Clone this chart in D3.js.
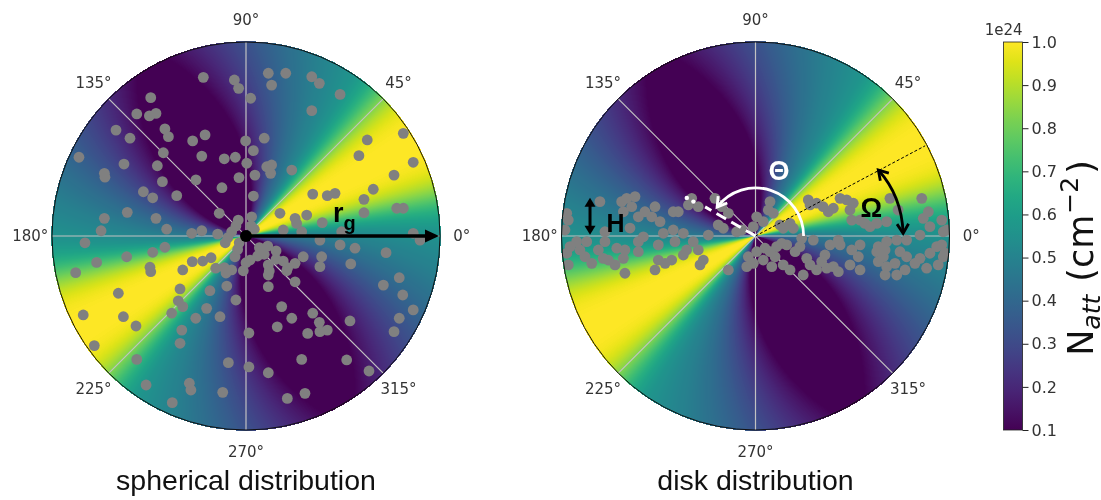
<!DOCTYPE html>
<html>
<head>
<meta charset="utf-8">
<script src="https://cdn.jsdelivr.net/npm/d3@7"></script>
<style>
  body { margin: 0; background: #fff; }
  #chart { position: relative; width: 1101px; height: 500px; }
  #chart canvas, #chart svg { position: absolute; left: 0; top: 0; }
</style>
</head>
<body>
<div id="chart"></div>
<script>
// positions in units of r_g (x, y)
const spherePoints = [
  [-0.220,0.818],[-0.060,0.804],[-0.038,0.761],[-0.491,0.713],[-0.563,0.629],[-0.498,0.619],[-0.464,0.632],
  [-0.418,0.552],[-0.400,0.512],[-0.670,0.546],[-0.598,0.504],[-0.861,0.406],[-0.275,0.490],[-0.211,0.521],
  [-0.002,0.490],[-0.426,0.429],[-0.228,0.412],[-0.112,0.398],[-0.055,0.406],[-0.629,0.371],[-0.457,0.362],
  [-0.730,0.323],[-0.727,0.303],[-0.258,0.289],[-0.431,0.280],[-0.036,0.301],[-0.124,0.249],[-0.529,0.228],
  [-0.481,0.197],[-0.357,0.208],[-0.612,0.122],[-0.730,0.091],[-0.464,0.091],[-0.138,0.117],[-0.747,0.027],
  [-0.409,0.035],[-0.280,0.014],[-0.228,0.027],[-0.146,0.010],[-0.074,0.022],[-0.040,0.082],
  [0.115,0.839],[0.132,0.778],[0.205,0.839],[0.339,0.821],[0.378,0.787],[0.485,0.730],[0.024,0.710],
  [0.339,0.646],[0.094,0.504],[0.038,0.440],[0.004,0.375],[0.107,0.357],[0.132,0.366],[0.127,0.323],
  [0.046,0.314],[0.236,0.340],[0.038,0.206],[0.811,0.529],[0.625,0.495],[0.582,0.414],[0.862,0.380],
  [0.763,0.314],[0.656,0.241],[0.608,0.189],[0.344,0.216],[0.419,0.208],[0.459,0.220],[0.777,0.143],
  [0.811,0.143],[0.175,0.117],[0.253,0.091],[0.313,0.108],[0.261,0.065],[0.393,0.069],[0.608,0.120],
  [0.029,0.099],[0.862,0.014],[0.493,0.022],[0.287,0.022],[0.192,0.031],
  [-0.052,0.052],[0.026,0.052],[0.043,0.035],[-0.094,-0.009],[-0.107,-0.035],[-0.035,-0.035],[-0.043,-0.069],
  [0.112,-0.052],[0.069,-0.060],[0.094,-0.094],[0.060,-0.103],[0.155,-0.077],[0.155,-0.120],[0.192,-0.129],
  [0.215,-0.163],[0.120,-0.180],[0.000,-0.138],[-0.112,-0.163],[-0.180,-0.112],[-0.223,-0.129],
  [-0.830,-0.035],[-0.770,-0.136],[-0.878,-0.189],[-0.615,-0.107],[-0.481,-0.084],[-0.418,-0.058],[-0.495,-0.161],
  [-0.491,-0.184],[-0.326,-0.175],[-0.277,-0.132],[-0.156,-0.166],[-0.103,-0.191],[-0.074,-0.175],[-0.014,-0.179],
  [-0.057,-0.107],[-0.658,-0.295],[-0.340,-0.273],[-0.186,-0.282],[-0.099,-0.258],[-0.052,-0.330],[-0.349,-0.334],
  [-0.326,-0.364],[-0.383,-0.398],[-0.203,-0.373],[-0.259,-0.424],[-0.134,-0.416],[-0.839,-0.407],[-0.632,-0.416],
  [-0.567,-0.464],[-0.331,-0.485],[-0.340,-0.553],[-0.782,-0.565],[-0.563,-0.636],[-0.091,-0.653],[0.015,-0.500],
  [0.015,-0.675],[-0.515,-0.768],[-0.292,-0.759],[-0.284,-0.794],[-0.120,-0.806],[-0.380,-0.859],
  [0.021,-0.124],[0.115,-0.149],[0.115,-0.201],[0.115,-0.261],[0.210,-0.179],[0.253,-0.141],[0.295,-0.107],
  [0.253,-0.236],[0.381,-0.158],[0.390,-0.107],[0.485,-0.046],[0.562,-0.063],[0.540,-0.144],[0.722,-0.086],
  [0.897,-0.021],[0.381,-0.021],[0.708,-0.253],[0.790,-0.215],[0.808,-0.304],[0.862,-0.381],[0.790,-0.424],
  [0.763,-0.493],[0.536,-0.438],[0.184,-0.364],[0.236,-0.424],[0.344,-0.398],[0.378,-0.445],[0.419,-0.485],
  [0.381,-0.493],[0.318,-0.502],[0.161,-0.468],[0.115,-0.705],[0.287,-0.636],[0.519,-0.639],[0.634,-0.696],
  [0.304,-0.811],[0.213,-0.837]
];

const diskPoints = [
  [-0.973,0.117],[-0.965,0.082],[-0.982,0.031],[-0.956,-0.055],[-0.973,-0.089],[-0.965,-0.149],[-0.922,-0.029],
  [-0.905,-0.072],[-0.879,-0.107],[-0.844,-0.141],[-0.810,-0.072],[-0.802,0.177],[-0.870,-0.029],[-0.776,-0.029],
  [-0.785,-0.115],[-0.759,-0.124],[-0.715,-0.063],[-0.673,-0.072],[-0.681,-0.115],[-0.724,-0.149],[-0.673,-0.192],
  [-0.604,-0.081],[-0.690,0.177],[-0.664,0.194],[-0.621,0.203],[-0.638,0.151],[-0.681,0.125],[-0.604,0.099],
  [-0.570,0.125],[-0.535,0.099],[-0.492,0.074],[-0.518,0.151],[-0.424,0.125],[-0.475,0.014],[-0.424,0.031],
  [-0.372,0.014],[-0.329,0.194],[-0.346,0.160],[-0.295,0.151],[-0.398,0.125],[-0.209,0.194],[-0.174,0.151],
  [-0.140,0.117],[-0.192,0.057],[-0.166,0.040],[-0.243,0.005],[-0.321,-0.029],[-0.355,-0.072],[-0.295,-0.072],
  [-0.269,-0.124],[-0.415,-0.029],[-0.501,-0.046],[-0.501,-0.124],[-0.466,-0.141],[-0.518,-0.175],[-0.432,-0.124],
  [-0.372,-0.098],[-0.286,-0.149],[-0.140,-0.175],[-0.097,0.022],[-0.071,0.031],[-0.045,-0.158],[-0.037,-0.107],
  [-0.604,-0.029],[-0.578,-0.004],[-0.776,0.022],[-0.647,0.041],
  [0.075,0.177],[0.066,0.134],[0.092,0.117],[0.006,0.099],[-0.011,0.048],[0.040,0.074],[0.126,0.057],
  [0.143,0.040],[0.178,0.065],[0.195,0.040],[0.272,0.186],[0.281,0.160],[0.315,0.169],[0.349,0.151],
  [0.375,0.125],[0.401,0.143],[0.436,0.194],[0.470,0.186],[0.504,0.169],[0.487,0.134],[0.496,0.082],
  [0.539,0.082],[0.564,0.065],[0.590,0.048],[0.625,0.065],[0.676,0.074],[0.693,0.194],[0.857,0.194],
  [0.891,0.125],[0.865,0.091],[0.899,0.048],[0.960,0.082],[0.968,0.022],[0.848,0.005],[0.779,-0.021],
  [0.728,-0.021],[0.676,-0.029],[0.633,-0.055],[0.668,-0.072],[0.625,-0.081],[0.659,-0.107],[0.633,-0.132],
  [0.676,-0.158],[0.719,-0.141],[0.745,-0.081],[0.779,-0.107],[0.822,-0.141],[0.848,-0.115],[0.899,-0.089],
  [0.934,-0.055],[0.960,-0.046],[0.968,-0.107],[0.942,-0.149],[0.882,-0.166],[0.771,-0.175],[0.728,-0.201],
  [0.668,-0.201],[0.539,-0.175],[0.487,-0.149],[0.530,-0.107],[0.496,-0.072],[0.539,-0.046],[0.436,-0.046],
  [0.427,-0.021],[0.384,-0.046],[0.358,-0.098],[0.341,-0.132],[0.401,-0.158],[0.427,-0.184],[0.281,-0.149],
  [0.264,-0.115],[0.204,-0.081],[0.229,-0.055],[0.161,-0.046],[0.135,-0.038],[0.109,-0.055],[0.075,-0.081],
  [0.101,-0.107],[0.049,-0.063],[0.040,-0.124],[0.006,-0.081],[-0.011,-0.141],[0.143,-0.149],[0.178,-0.175],
  [0.246,-0.201],[0.315,-0.175],[0.367,-0.166],[0.238,-0.012],[0.298,-0.021],[0.084,-0.158],[0.986,0.031],
  [0.735,0.134],[0.977,-0.088]
];

const angleTicks = [0, 45, 90, 135, 180, 225, 270, 315];
const gridAngles = [0, 45, 90, 135];
const colorTicks = [0.1, 0.2, 0.3, 0.4, 0.5, 0.6, 0.7, 0.8, 0.9, 1.0];
const nAttRange = [0.1, 1.0]; // 1e24 cm^-2
const peakAngle = 29; // direction of the densest column, degrees

const WIDTH = 1101;
const HEIGHT = 500;
const R = 194;

const panels = [
  { name: 'sphere', cx: 246, cy: 236, points: spherePoints, title: 'spherical distribution' },
  { name: 'disk', cx: 755.5, cy: 236, points: diskPoints, title: 'disk distribution' },
];
panels.forEach((p) => {
  p.x = d3.scaleLinear().domain([-1, 1]).range([p.cx - R, p.cx + R]);
  p.y = d3.scaleLinear().domain([-1, 1]).range([p.cy + R, p.cy - R]);
  p.pol = (deg, r) => [
    p.x(r * Math.cos((deg * Math.PI) / 180)),
    p.y(r * Math.sin((deg * Math.PI) / 180)),
  ];
});

const color = d3.scaleSequential(d3.interpolateViridis).domain(nAttRange);

// column density seen along direction theta at radius r (units of 1e24)
const nAtt = (thetaDeg, r) => {
  let d = (((thetaDeg - peakAngle) % 180) + 180) % 180;
  if (d > 90) d -= 180;
  d = Math.abs(d);
  const core = Math.exp(-Math.pow(d / 19, 3.5));
  const w = 45 + 40 * r;
  const tail = 0.58 * Math.cos((Math.PI / 2) * Math.min(d / w, 1));
  const t = core + (1 - core) * tail;
  return nAttRange[0] + (nAttRange[1] - nAttRange[0]) * t;
};

const container = document.getElementById('chart');

// colour field on a canvas under the svg
const canvas = document.createElement('canvas');
canvas.width = WIDTH;
canvas.height = HEIGHT;
container.appendChild(canvas);
const ctx = canvas.getContext('2d');

const lutSize = 512;
const lut = d3.range(lutSize).map((i) =>
  d3.rgb(color(nAttRange[0] + ((nAttRange[1] - nAttRange[0]) * i) / (lutSize - 1)))
);
const lookup = (v) => {
  const k = Math.round(((v - nAttRange[0]) / (nAttRange[1] - nAttRange[0])) * (lutSize - 1));
  return lut[Math.max(0, Math.min(lutSize - 1, k))];
};

panels.forEach((p) => {
  const x0 = Math.floor(p.cx - R - 2);
  const y0 = Math.floor(p.cy - R - 2);
  const size = 2 * R + 5;
  const img = ctx.createImageData(size, size);
  for (let j = 0; j < size; j++) {
    for (let i = 0; i < size; i++) {
      const dx = p.x.invert(x0 + i + 0.5);
      const dy = p.y.invert(y0 + j + 0.5);
      const r = Math.hypot(dx, dy);
      if (r > 1.004) continue;
      const th = (Math.atan2(dy, dx) * 180) / Math.PI;
      const c = lookup(nAtt(th, r));
      const k = (j * size + i) * 4;
      img.data[k] = c.r;
      img.data[k + 1] = c.g;
      img.data[k + 2] = c.b;
      img.data[k + 3] = 255;
    }
  }
  ctx.putImageData(img, x0, y0);
});

const svg = d3
  .select(container)
  .append('svg')
  .attr('width', WIDTH)
  .attr('height', HEIGHT);

const defs = svg.append('defs');

const chevron = (g, tip, dir, len, spread, stroke, width) => {
  const [ux, uy] = dir;
  const rot = (vx, vy, a) => [vx * Math.cos(a) - vy * Math.sin(a), vx * Math.sin(a) + vy * Math.cos(a)];
  const [ax, ay] = rot(-ux, -uy, spread);
  const [bx, by] = rot(-ux, -uy, -spread);
  g.append('path')
    .attr('d', `M${tip[0] + ax * len},${tip[1] + ay * len}L${tip[0]},${tip[1]}L${tip[0] + bx * len},${tip[1] + by * len}`)
    .attr('fill', 'none')
    .attr('stroke', stroke)
    .attr('stroke-width', width)
    .attr('stroke-linejoin', 'miter');
};

const triangle = (g, tip, dir, len, half, fill) => {
  const [ux, uy] = dir;
  const bx = tip[0] - ux * len;
  const by = tip[1] - uy * len;
  g.append('path')
    .attr('d', `M${tip[0]},${tip[1]}L${bx - uy * half},${by + ux * half}L${bx + uy * half},${by - ux * half}Z`)
    .attr('fill', fill);
};

const unit = (a, b) => {
  const dx = b[0] - a[0];
  const dy = b[1] - a[1];
  const l = Math.hypot(dx, dy);
  return [dx / l, dy / l];
};

panels.forEach((p) => {
  const g = svg.append('g').attr('class', p.name);

  defs
    .append('clipPath')
    .attr('id', `clip-${p.name}`)
    .append('circle')
    .attr('cx', p.x(0))
    .attr('cy', p.y(0))
    .attr('r', p.x(1) - p.x(0));

  g.selectAll('line.grid')
    .data(gridAngles)
    .join('line')
    .attr('class', 'grid')
    .attr('x1', (a) => p.pol(a, 1)[0])
    .attr('y1', (a) => p.pol(a, 1)[1])
    .attr('x2', (a) => p.pol(a + 180, 1)[0])
    .attr('y2', (a) => p.pol(a + 180, 1)[1])
    .attr('stroke', '#c2c2c2')
    .attr('stroke-width', 1.2);

  g.append('g')
    .attr('clip-path', `url(#clip-${p.name})`)
    .selectAll('circle')
    .data(p.points)
    .join('circle')
    .attr('cx', (d) => p.x(d[0]))
    .attr('cy', (d) => p.y(d[1]))
    .attr('r', 5.4)
    .attr('fill', '#808080');

  g.append('circle')
    .attr('cx', p.x(0))
    .attr('cy', p.y(0))
    .attr('r', p.x(1) - p.x(0))
    .attr('fill', 'none')
    .attr('stroke', '#111')
    .attr('stroke-width', 1);

  g.selectAll('text.angle')
    .data(angleTicks)
    .join('text')
    .attr('class', 'angle')
    .attr('x', (a) => p.pol(a, 1.112)[0])
    .attr('y', (a) => p.pol(a, 1.112)[1])
    .attr('text-anchor', 'middle')
    .attr('dominant-baseline', 'central')
    .style('font-family', 'DejaVu Sans')
    .style('font-size', '15px')
    .attr('fill', '#333')
    .text((a) => `${a}°`);

  g.append('text')
    .attr('x', p.x(0))
    .attr('y', 490)
    .attr('text-anchor', 'middle')
    .style('font-family', 'Liberation Sans, Arial')
    .style('font-size', '28.5px')
    .attr('fill', '#111')
    .text(p.title);
});

// spherical panel: r_g arrow
{
  const p = panels[0];
  const g = svg.append('g');
  const c = [p.x(0), p.y(0)];
  const tip = [p.x(0.995), p.y(0)];
  const dir = unit(c, tip);
  g.append('line')
    .attr('x1', c[0]).attr('y1', c[1])
    .attr('x2', tip[0] - dir[0] * 10).attr('y2', tip[1])
    .attr('stroke', '#000')
    .attr('stroke-width', 3.5);
  triangle(g, tip, dir, 14, 6.5, '#000');
  g.append('circle').attr('cx', c[0]).attr('cy', c[1]).attr('r', 6).attr('fill', '#000');
  const t = g.append('text')
    .attr('x', p.x(0.448))
    .attr('y', p.y(0.072))
    .style('font-family', 'Liberation Sans, Arial')
    .style('font-weight', 'bold')
    .style('font-size', '27px')
    .attr('fill', '#000');
  t.append('tspan').text('r');
  t.append('tspan').attr('dy', 8).style('font-size', '20px').text('g');
}

// disk panel: Θ, Ω, H annotations
{
  const p = panels[1];
  const g = svg.append('g');
  const c = [p.x(0), p.y(0)];

  // thin dashed line along the disk axis
  const edge = p.pol(28, 0.99);
  g.append('line')
    .attr('x1', c[0]).attr('y1', c[1]).attr('x2', edge[0]).attr('y2', edge[1])
    .attr('stroke', '#000').attr('stroke-width', 1).attr('stroke-dasharray', '3,2');

  // white dashed line of sight
  const los = p.pol(150, 0.3);
  g.append('line')
    .attr('x1', c[0]).attr('y1', c[1]).attr('x2', los[0]).attr('y2', los[1])
    .attr('stroke', '#fff').attr('stroke-width', 3).attr('stroke-dasharray', '11,6');
  [[151, 0.366], [151, 0.405]].forEach(([a, r]) => {
    const q = p.pol(a, r);
    g.append('circle').attr('cx', q[0]).attr('cy', q[1]).attr('r', 2.2).attr('fill', '#fff');
  });

  // Θ arc
  const rA = 0.248;
  const a0 = p.pol(0, rA);
  const endAng = 143;
  const a1 = p.pol(endAng, rA);
  const rPx = p.x(rA) - p.x(0);
  g.append('path')
    .attr('d', `M${a0[0]},${a0[1]}A${rPx},${rPx} 0 0 0 ${a1[0]},${a1[1]}`)
    .attr('fill', 'none').attr('stroke', '#fff').attr('stroke-width', 2.8);
  const er = (endAng * Math.PI) / 180;
  chevron(g, a1, [-Math.sin(er), -Math.cos(er)], 11, 0.55, '#fff', 2.8);
  g.append('text')
    .attr('x', p.x(0.121)).attr('y', p.y(0.336))
    .attr('text-anchor', 'middle').attr('dominant-baseline', 'central')
    .style('font-family', 'Liberation Sans, Arial').style('font-weight', 'bold').style('font-size', '27px')
    .attr('fill', '#fff')
    .text('Θ');

  // Ω curved double arrow
  const o0 = [p.x(0.633), p.y(0.340)];
  const oc = [p.x(0.754), p.y(0.206)];
  const o1 = [p.x(0.761), p.y(0.014)];
  g.append('path')
    .attr('d', `M${o0[0]},${o0[1]}Q${oc[0]},${oc[1]} ${o1[0]},${o1[1]}`)
    .attr('fill', 'none').attr('stroke', '#000').attr('stroke-width', 2.8);
  chevron(g, o0, unit(oc, o0), 11, 0.55, '#000', 2.8);
  chevron(g, o1, unit(oc, o1), 11, 0.55, '#000', 2.8);
  g.append('text')
    .attr('x', p.x(0.597)).attr('y', p.y(0.143))
    .attr('text-anchor', 'middle').attr('dominant-baseline', 'central')
    .style('font-family', 'Liberation Sans, Arial').style('font-weight', 'bold').style('font-size', '27px')
    .attr('fill', '#000')
    .text('Ω');

  // H double arrow
  const h0 = [p.x(-0.853), p.y(0.197)];
  const h1 = [p.x(-0.853), p.y(0.006)];
  g.append('line')
    .attr('x1', h0[0]).attr('y1', h0[1] + 6).attr('x2', h1[0]).attr('y2', h1[1] - 6)
    .attr('stroke', '#000').attr('stroke-width', 3);
  triangle(g, h0, [0, -1], 9, 5.5, '#000');
  triangle(g, h1, [0, 1], 9, 5.5, '#000');
  g.append('text')
    .attr('x', p.x(-0.721)).attr('y', p.y(0.067))
    .attr('text-anchor', 'middle').attr('dominant-baseline', 'central')
    .style('font-family', 'Liberation Sans, Arial').style('font-weight', 'bold').style('font-size', '25px')
    .attr('fill', '#000')
    .text('H');
}

// colour bar
{
  const barX = 1003.5;
  const barW = 19;
  const cy = d3.scaleLinear().domain(nAttRange).range([430, 42]);
  const grad = defs
    .append('linearGradient')
    .attr('id', 'cbar')
    .attr('x1', 0).attr('y1', 1).attr('x2', 0).attr('y2', 0);
  d3.range(0, 1.0001, 0.05).forEach((f) => {
    grad.append('stop')
      .attr('offset', f)
      .attr('stop-color', color(nAttRange[0] + f * (nAttRange[1] - nAttRange[0])));
  });
  const g = svg.append('g');
  g.append('rect')
    .attr('x', barX).attr('y', cy(1.0)).attr('width', barW).attr('height', cy(0.1) - cy(1.0))
    .attr('fill', 'url(#cbar)').attr('stroke', '#222').attr('stroke-width', 0.8);

  const axis = g.append('g')
    .attr('transform', `translate(${barX + barW}, 0)`)
    .call(d3.axisRight(cy).tickValues(colorTicks).tickFormat(d3.format('.1f')).tickSize(6).tickPadding(3));
  axis.select('.domain').remove();
  axis.selectAll('line').attr('stroke', '#222');
  axis.selectAll('text')
    .style('font-family', 'DejaVu Sans').style('font-size', '16px').attr('fill', '#333');

  g.append('text')
    .attr('x', barX + barW).attr('y', 35)
    .attr('text-anchor', 'end')
    .style('font-family', 'DejaVu Sans').style('font-size', '15px').attr('fill', '#333')
    .text('1e24');

  const lab = g.append('text')
    .attr('transform', 'translate(1093, 258) rotate(-90)')
    .attr('text-anchor', 'middle')
    .style('font-family', 'DejaVu Sans').style('font-size', '35px').attr('fill', '#111');
  lab.append('tspan').text('N');
  lab.append('tspan').attr('dy', 7).style('font-size', '25px').style('font-style', 'italic').text('att');
  lab.append('tspan').attr('dy', -7).attr('dx', 13).text('(cm');
  lab.append('tspan').attr('dy', -15).attr('dx', 1).style('font-size', '25px').text('−2');
  lab.append('tspan').attr('dy', 15).attr('dx', 3).text(')');
}
</script>
</body>
</html>
